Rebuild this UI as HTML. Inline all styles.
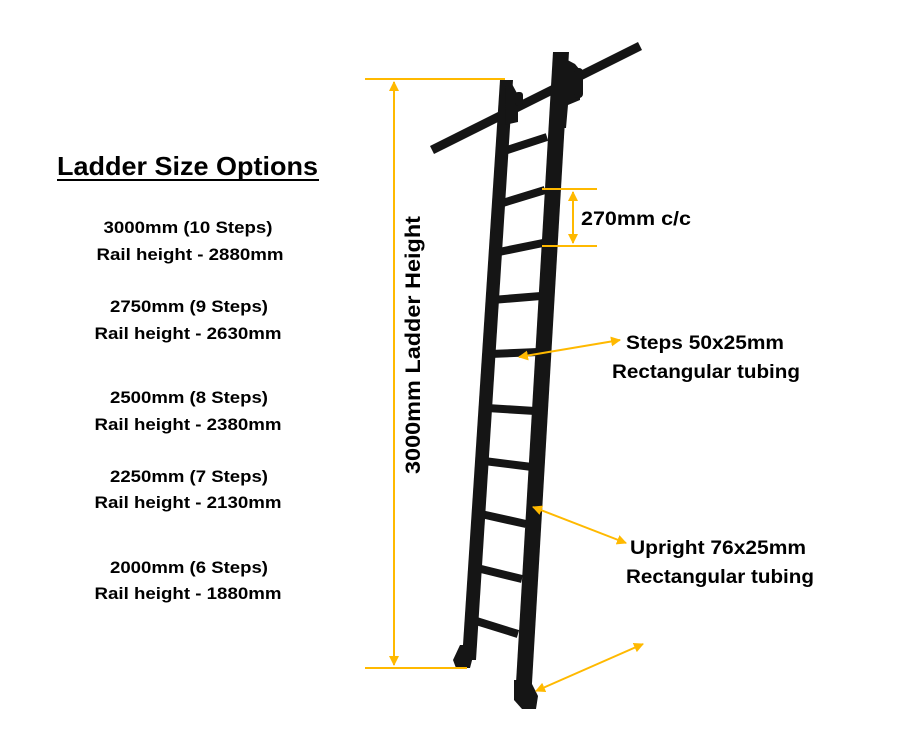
<!DOCTYPE html>
<html><head><style>body{margin:0;background:#fff}svg{display:block}</style></head><body>
<svg width="900" height="747" viewBox="0 0 900 747" xmlns="http://www.w3.org/2000/svg" font-family="Liberation Sans, sans-serif" font-weight="bold">
<defs>
<marker id="a" viewBox="0 0 10 10" refX="9" refY="5" markerWidth="5" markerHeight="5" orient="auto-start-reverse"><path d="M0,0L10,5L0,10z" fill="#FFB900"/></marker>
</defs>
<rect width="900" height="747" fill="#fff"/>
<!-- left text -->
<text x="57" y="175" font-size="26" textLength="261" lengthAdjust="spacingAndGlyphs">Ladder Size Options</text>
<rect x="57" y="179" width="262" height="2" fill="#000"/>
<g font-size="17" text-anchor="middle">
<text x="188" y="233" textLength="169" lengthAdjust="spacingAndGlyphs">3000mm (10 Steps)</text>
<text x="190" y="260" textLength="187" lengthAdjust="spacingAndGlyphs">Rail height - 2880mm</text>
<text x="189" y="312" textLength="158" lengthAdjust="spacingAndGlyphs">2750mm (9 Steps)</text>
<text x="188" y="339" textLength="187" lengthAdjust="spacingAndGlyphs">Rail height - 2630mm</text>
<text x="189" y="403" textLength="158" lengthAdjust="spacingAndGlyphs">2500mm (8 Steps)</text>
<text x="188" y="430" textLength="187" lengthAdjust="spacingAndGlyphs">Rail height - 2380mm</text>
<text x="189" y="482" textLength="158" lengthAdjust="spacingAndGlyphs">2250mm (7 Steps)</text>
<text x="188" y="508" textLength="187" lengthAdjust="spacingAndGlyphs">Rail height - 2130mm</text>
<text x="189" y="573" textLength="158" lengthAdjust="spacingAndGlyphs">2000mm (6 Steps)</text>
<text x="188" y="599" textLength="187" lengthAdjust="spacingAndGlyphs">Rail height - 1880mm</text>
</g>
<!-- track -->
<path d="M432,150 L640,46" stroke="#151515" stroke-width="9"/>
<!-- rungs -->
<g stroke="#151515" stroke-width="8">
<path d="M498,153 L547,137"/>
<path d="M496,205 L545,190"/>
<path d="M494,253 L543,243"/>
<path d="M492,300 L541,296"/>
<path d="M490,354 L538,352"/>
<path d="M487,408 L535,411"/>
<path d="M484,461 L532,467"/>
<path d="M481,514 L526,524"/>
<path d="M477,568 L522,579"/>
<path d="M473,620 L518,634"/>
</g>
<!-- rails -->
<path d="M500,80 L513,80 L476,660 L462,660 Z" fill="#151515"/>
<path d="M553,52 L569,52 L531,700 L515,700 Z" fill="#151515"/>
<!-- top brackets -->
<path d="M506,84 L512,84 L518,95 L518,122 L505,125 Z" fill="#151515"/>
<rect x="515" y="92" width="8" height="14" rx="3" fill="#151515"/>
<path d="M560,56 L575,64 L580,70 L580,100 L568,105 L566,128 L560,128 Z" fill="#151515"/>
<rect x="574" y="68" width="9" height="30" rx="4" fill="#151515"/>
<!-- feet -->
<path d="M460,645 L476,645 L470,668 L456,668 L453,660 Z" fill="#151515"/>
<path d="M514,680 L530,680 L538,696 L536,709 L522,709 L514,700 Z" fill="#151515"/>
<!-- dimension lines -->
<g stroke="#FFB900" stroke-width="2" fill="none">
<path d="M365,79 L505,79"/>
<path d="M365,668 L467,668"/>
<path d="M394,82 L394,665" marker-start="url(#a)" marker-end="url(#a)"/>
<path d="M542,189 L597,189"/>
<path d="M542,246 L597,246"/>
<path d="M573,192 L573,243" marker-start="url(#a)" marker-end="url(#a)"/>
<path d="M519,357 L620,340" marker-start="url(#a)" marker-end="url(#a)"/>
<path d="M533,507 L626,543" marker-start="url(#a)" marker-end="url(#a)"/>
<path d="M536,691 L643,644" marker-start="url(#a)" marker-end="url(#a)"/>
</g>
<text transform="translate(420,345) rotate(-90)" font-size="21" text-anchor="middle" textLength="258" lengthAdjust="spacingAndGlyphs">3000mm Ladder Height</text>
<text x="581" y="225" font-size="19" textLength="110" lengthAdjust="spacingAndGlyphs">270mm c/c</text>
<g font-size="19" text-anchor="middle">
<text x="705" y="349" textLength="158" lengthAdjust="spacingAndGlyphs">Steps 50x25mm</text>
<text x="706" y="378" textLength="188" lengthAdjust="spacingAndGlyphs">Rectangular tubing</text>
<text x="718" y="554" textLength="176" lengthAdjust="spacingAndGlyphs">Upright 76x25mm</text>
<text x="720" y="583" textLength="188" lengthAdjust="spacingAndGlyphs">Rectangular tubing</text>
</g>
</svg>
</body></html>
